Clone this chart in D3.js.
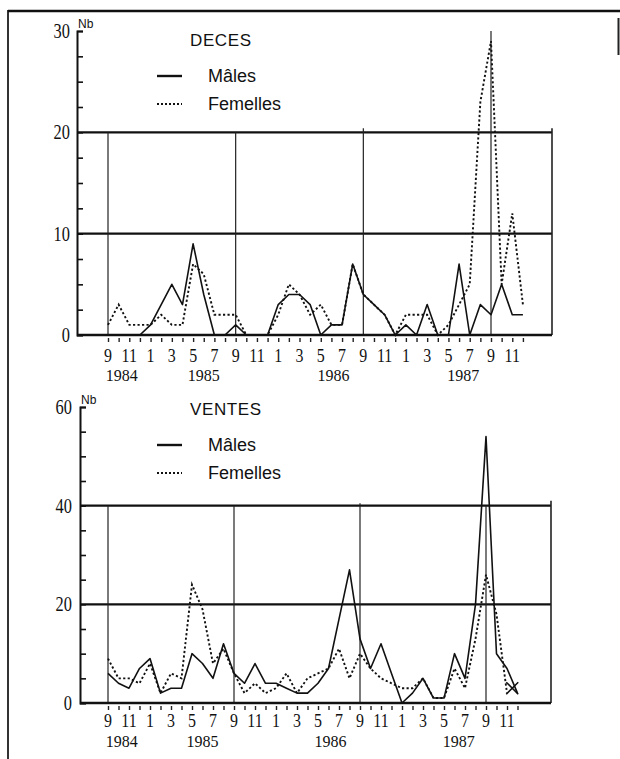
<!DOCTYPE html>
<html>
<head>
<meta charset="utf-8">
<script src="https://cdn.jsdelivr.net/npm/d3@7"></script>
<style>
  html, body { margin: 0; padding: 0; background: #fff; }
  svg { display: block; }
  .num { font-family: "Liberation Serif", serif; fill: #111; }
  .lab { font-family: "Liberation Sans", Arial, sans-serif; fill: #111; }
</style>
</head>
<body>
<svg id="chart" width="620" height="759"></svg>
<script>
// Monthly counts, September 1984 (index 0) to December 1987 (index 39)
const decesMales     = [0,0,0,0,1,3,5,3,9,4,0,0,1,0,0,0,3,4,4,3,0,1,1,7,4,3,2,0,1,0,3,0,0,7,0,3,2,5,2,2];
const decesFemelles  = [1,3,1,1,1,2,1,1,7,6,2,2,2,0,0,0,2,5,4,2,3,1,1,7,4,3,2,0,2,2,2,0,1,3,5,23,29,5,12,3];
const ventesMales    = [6,4,3,7,9,2,3,3,10,8,5,12,6,4,8,4,4,3,2,2,4,7,17,27,13,7,12,6,0,2,5,1,1,10,5,20,54,10,7,2];
const ventesFemelles = [9,5,5,4,8,2,6,5,24,19,8,11,6,2,4,2,3,6,2,5,6,7,11,5,10,7,5,4,3,3,5,1,1,7,3,13,26,18,2];

// Axis labels
const monthLabels = ["9","11","1","3","5","7","9","11","1","3","5","7","9","11","1","3","5","7","9","11"];
const monthLabelAt = d3.range(0, 40, 2);
const yearLabels = ["1984","1985","1986","1987"];
const yearLabelAt = [1.3, 9, 21.2, 33.4];
const septembers = [0, 12, 24, 36];
const legendItems = ["Mâles", "Femelles"];

// End-of-series cross on the sales panel
const salesEndMark = { month: 38.5, value: 3 };

const svg = d3.select("#chart");

// Sheet border
svg.append("line").attr("x1", 8).attr("x2", 8).attr("y1", 10).attr("y2", 759)
  .attr("stroke", "#333").attr("stroke-width", 2);
svg.append("line").attr("x1", 8).attr("x2", 620).attr("y1", 11).attr("y2", 11)
  .attr("stroke", "#111").attr("stroke-width", 2.5);
svg.append("line").attr("x1", 618.5).attr("x2", 618.5).attr("y1", 18).attr("y2", 55)
  .attr("stroke", "#222").attr("stroke-width", 2);

function drawPanel(cfg) {
  const g = svg.append("g");
  const x = d3.scaleLinear().domain([0, 36]).range(cfg.xRange);
  const y = d3.scaleLinear().domain([0, cfg.yMax]).range(cfg.yRange);
  const y0 = y(0);

  // Horizontal reference lines
  g.selectAll(".grid").data(cfg.grid).join("line")
    .attr("x1", cfg.left).attr("x2", cfg.right)
    .attr("y1", d => y(d)).attr("y2", d => y(d))
    .attr("stroke", "#111").attr("stroke-width", 2.2);

  // Yearly vertical separators (September) and right edge
  g.selectAll(".sep").data(septembers).join("line")
    .attr("x1", d => x(d)).attr("x2", d => x(d))
    .attr("y1", (d, i) => y(cfg.sepTop[i])).attr("y2", y0)
    .attr("stroke", "#222").attr("stroke-width", 1.2);
  g.append("line")
    .attr("x1", cfg.right).attr("x2", cfg.right)
    .attr("y1", y(cfg.edgeTop)).attr("y2", y0)
    .attr("stroke", "#222").attr("stroke-width", 1.6);

  // Baseline
  g.append("line").attr("x1", cfg.left).attr("x2", cfg.right)
    .attr("y1", y0).attr("y2", y0)
    .attr("stroke", "#111").attr("stroke-width", 2.4);

  // Vertical axis with inward minor ticks
  const yAxis = d3.axisRight(y)
    .tickValues(d3.range(0, cfg.yMax + 0.01, cfg.minor))
    .tickSize(6).tickFormat("");
  const ya = g.append("g").attr("transform", `translate(${cfg.left},0)`).call(yAxis);
  ya.select(".domain").attr("stroke", "#111").attr("stroke-width", 2);
  ya.selectAll(".tick line").attr("stroke", "#111").attr("stroke-width", 1.6);

  // Vertical axis labels
  g.selectAll(".ylab").data(cfg.labels).join("text")
    .attr("class", "num")
    .attr("text-anchor", "end")
    .attr("font-size", 21)
    .attr("transform", d => `translate(${cfg.left - cfg.labelGap},${y(d) + 7}) scale(0.78,1)`)
    .text(d => d);

  g.append("text").attr("class", "lab")
    .attr("x", cfg.left + 1).attr("y", y(cfg.yMax) - 3)
    .attr("font-size", 12).text("Nb");

  // Month tick marks
  const xAxis = d3.axisBottom(x).tickValues(d3.range(40)).tickSize(4).tickFormat("");
  const xa = g.append("g").attr("transform", `translate(0,${y0 + 3})`).call(xAxis);
  xa.select(".domain").remove();
  xa.selectAll(".tick line").attr("stroke", "#222").attr("stroke-width", 1.4);

  // Month and year labels
  g.selectAll(".mlab").data(monthLabels).join("text")
    .attr("class", "num").attr("text-anchor", "middle").attr("font-size", 19)
    .attr("transform", (d, i) => `translate(${x(monthLabelAt[i])},${cfg.monthBase}) scale(0.84,1)`)
    .text(d => d);
  g.selectAll(".ylabx").data(yearLabels).join("text")
    .attr("class", "num").attr("text-anchor", "middle").attr("font-size", 16)
    .attr("transform", (d, i) => `translate(${x(yearLabelAt[i])},${cfg.yearBase})`)
    .text(d => d);

  // Series
  const line = d3.line().x((d, i) => x(i)).y(d => y(d));
  g.append("path").datum(cfg.females).attr("d", line)
    .attr("fill", "none").attr("stroke", "#111").attr("stroke-width", 1.9)
    .attr("stroke-dasharray", "2.2,2.3");
  g.append("path").datum(cfg.males).attr("d", line)
    .attr("fill", "none").attr("stroke", "#111").attr("stroke-width", 1.6)
    .attr("stroke-linejoin", "round");

  // Legend
  g.append("text").attr("class", "lab").attr("x", 190).attr("y", cfg.legendTop)
    .attr("font-size", 17).attr("letter-spacing", 0.6).text(cfg.title);
  legendItems.forEach((name, i) => {
    const ly = cfg.legendTop + 30 + i * 28;
    g.append("line").attr("x1", 157).attr("x2", 182).attr("y1", ly).attr("y2", ly)
      .attr("stroke", "#111").attr("stroke-width", i === 0 ? 2.4 : 2)
      .attr("stroke-dasharray", i === 0 ? null : "2,2");
    g.append("text").attr("class", "lab").attr("x", 208).attr("y", ly + 6)
      .attr("font-size", 18).text(name);
  });

  return { x, y, g };
}

drawPanel({
  title: "DECES",
  males: decesMales, females: decesFemelles,
  yMax: 30, grid: [10, 20], minor: 2.5, labels: [0, 10, 20, 30],
  xRange: [108, 491], yRange: [335, 31],
  left: 77, right: 552, labelGap: 7,
  sepTop: [20, 20, 20.4, 30], edgeTop: 20.4,
  monthBase: 362, yearBase: 381, legendTop: 46
});

const sales = drawPanel({
  title: "VENTES",
  males: ventesMales, females: ventesFemelles,
  yMax: 60, grid: [20, 40], minor: 5, labels: [0, 20, 40, 60],
  xRange: [108, 486], yRange: [703, 407],
  left: 80, right: 551, labelGap: 8,
  sepTop: [40, 40, 40.5, 40], edgeTop: 41,
  monthBase: 727, yearBase: 747, legendTop: 415
});

// Cross marking the end of the sales series
const cx = sales.x(salesEndMark.month), cy = sales.y(salesEndMark.value);
sales.g.append("path")
  .attr("d", `M${cx - 6},${cy - 6}L${cx + 6},${cy + 6}M${cx - 6},${cy + 6}L${cx + 6},${cy - 6}`)
  .attr("stroke", "#111").attr("stroke-width", 1.6).attr("fill", "none");
</script>
</body>
</html>
